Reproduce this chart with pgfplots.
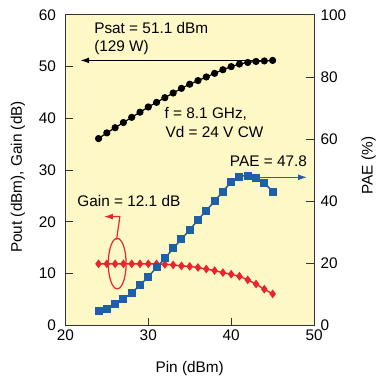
\documentclass[border=0pt]{standalone}
\usepackage{fontspec}
\setmainfont{Liberation Sans}
\usepackage{pgfplots}
\pgfplotsset{compat=1.18}
\usetikzlibrary{arrows.meta}
\definecolor{bg}{RGB}{254,247,198}
\definecolor{pblue}{RGB}{30,95,170}
\definecolor{pred}{RGB}{235,35,45}
\begin{document}
\begin{tikzpicture}
\pgfplotsset{
  common/.style={
    scale only axis, width=251pt, height=313.5pt,
    xmin=20, xmax=50,
    tick align=inside, major tick length=8pt,
    font=\fontsize{15.5}{18}\selectfont,
    /pgf/number format/assume math mode=true,
    axis line style={line width=0.9pt, black!80},
    tick style={line width=0.9pt, black!80},
    clip=false,
  }
}
\begin{axis}[common, name=ax,
  ymin=0, ymax=60,
  xtick={20,30,40,50}, ytick={0,10,...,60},
  xtick pos=bottom, ytick pos=left,
  axis background/.style={fill=bg},
  yticklabel style={xshift=-6pt},
  xticklabel style={yshift=-1pt},
  xlabel={Pin (dBm)}, ylabel={Pout (dBm), Gain (dB)},
  xlabel style={at={([yshift=-43pt]rel axis cs:0.5,0)}, anchor=center},
  ylabel style={at={([xshift=-48pt]rel axis cs:0,0.478)}, anchor=center},
]
\addplot[black, line width=1.2pt, mark=*, mark size=3pt] coordinates {
(24,36.1)(25,37.2)(26,38.2)(27,39.2)(28,40.2)(29,41.2)(30,42.2)(31,43.1)
(32,44.0)(33,44.9)(34,45.8)(35,46.6)(36,47.3)(37,48.0)(38,48.7)(39,49.4)
(40,50.0)(41,50.5)(42,50.8)(43,51.0)(44,51.1)(45,51.2)};
\addplot[pred, line width=1.4pt, mark=diamond*, mark size=3.3pt] coordinates {
(24,11.9)(25,11.9)(26,11.9)(27,11.9)(28,11.9)(29,11.9)(30,11.9)(31,11.9)
(32,11.8)(33,11.7)(34,11.5)(35,11.4)(36,11.2)(37,10.9)(38,10.6)(39,10.2)
(40,9.9)(41,9.5)(42,8.8)(43,8.0)(44,7.0)(45,6.1)};
\draw[black, line width=1.2pt, -{Latex[length=9pt,width=6pt]}] (axis cs:45,51.2) -- (axis cs:21.8,51.2);
\node[anchor=west, inner sep=0pt] at (axis cs:23.46,57.5) {Psat = 51.1 dBm};
\node[anchor=west, inner sep=0pt] at (axis cs:23.46,53.6) {(129 W)};
\node[anchor=west, inner sep=0pt] at (axis cs:31.95,40.8) {f = 8.1 GHz,};
\node[anchor=west, inner sep=0pt] at (axis cs:32.07,37.4) {Vd = 24 V CW};
\node[anchor=west, inner sep=0pt] at (axis cs:21.43,24.0) {Gain = 12.1 dB};
\draw[pred, line width=1.2pt] (axis cs:26.25,11.95) ellipse [x radius=9pt, y radius=25.5pt];
\draw[pred, line width=1.2pt, -{Latex[length=9pt,width=6pt]}] (axis cs:26.18,16.6) -- (axis cs:26.57,21.03) -- (axis cs:24.66,21.03);
\end{axis}
\begin{axis}[common,
  ymin=0, ymax=100,
  axis x line=none, axis y line*=right,
  ytick={0,20,...,100},
  yticklabel style={xshift=3pt},
  ylabel={PAE (\%)},
  ylabel style={at={([xshift=55pt]rel axis cs:1,0.515)}, anchor=center},
]
\addplot[pblue, line width=1.5pt, smooth, mark=square*, mark size=3.3pt] coordinates {
(24,4.5)(25,5.4)(26,7.0)(27,8.6)(28,10.5)(29,13.0)(30,15.7)(31,18.7)
(32,21.6)(33,24.8)(34,27.8)(35,30.8)(36,34.0)(37,37.0)(38,40.0)(39,43.1)
(40,46.1)(41,47.9)(42,48.2)(43,47.6)(44,45.8)(45,43.1)};
\draw[pblue, line width=1.2pt, -{Latex[length=9pt,width=6pt]}] (axis cs:42,47.7) -- (axis cs:49.15,47.7);
\node[inner sep=0pt] at (axis cs:44.5,52.8) {PAE = 47.8};
\end{axis}
\path ([shift={(-66pt,-49.5pt)}]ax.south west) rectangle ([shift={(62pt,15pt)}]ax.north east);
\end{tikzpicture}
\end{document}
